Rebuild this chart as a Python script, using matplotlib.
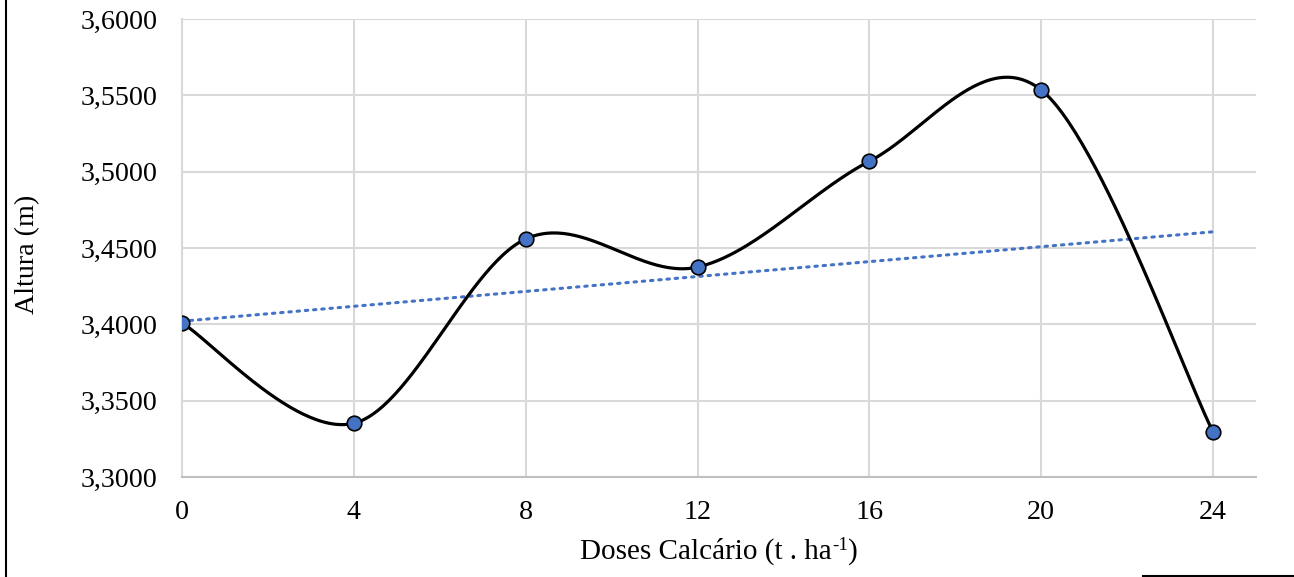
import numpy as np
import matplotlib
matplotlib.use("Agg")
import matplotlib.pyplot as plt
from matplotlib.lines import Line2D
from matplotlib.ticker import FuncFormatter

doses = [0, 4, 8, 12, 16, 20, 24]
altura = [3.4009, 3.3352, 3.4559, 3.4375, 3.5068, 3.5535, 3.3295]
x_ticks = [0, 4, 8, 12, 16, 20, 24]
y_ticks = [3.30, 3.35, 3.40, 3.45, 3.50, 3.55, 3.60]

plt.rcParams['font.family'] = ['Liberation Serif', 'DejaVu Serif']

W, H = 1294, 577
FS = 20.2
FSX = 21.0
fig = plt.figure(figsize=(W / 100, H / 100), dpi=100)
ax = fig.add_axes([182 / W, 1 - 477 / H, (1256 - 182) / W, (477 - 19) / H])

# Excel-style smoothed line (Bezier with Catmull-Rom control points)
P = np.column_stack([doses, altura]).astype(float)
n = len(P)
curve = []
for i in range(n - 1):
    p0 = P[i - 1] if i > 0 else P[i]
    p1 = P[i]
    p2 = P[i + 1]
    p3 = P[i + 2] if i + 2 < n else P[i + 1]
    c1 = p1 + (p2 - p0) / 6.0
    c2 = p2 - (p3 - p1) / 6.0
    t = np.linspace(0, 1, 60)[:, None]
    seg = ((1 - t) ** 3) * p1 + 3 * ((1 - t) ** 2) * t * c1 + 3 * (1 - t) * t ** 2 * c2 + t ** 3 * p2
    curve.append(seg if i == 0 else seg[1:])
curve = np.vstack(curve)

ax.plot(curve[:, 0], curve[:, 1], color='black', lw=2.3, zorder=3, solid_capstyle='round')

# linear trendline
m, b = np.polyfit(doses, altura, 1)
xt = np.array([doses[0], doses[-1]])
ax.plot(xt, m * xt + b, color='#4472C4', lw=2.2, linestyle=(0, (0.8, 1.9)),
        dash_capstyle='round', zorder=2)

ax.plot(doses, altura, linestyle='none', marker='o', markersize=10.5,
        markerfacecolor='#4472C4', markeredgecolor='black', markeredgewidth=1.2, zorder=4)

ax.set_xlim(0, 25)
ax.set_ylim(3.30, 3.60)
ax.set_xticks(x_ticks)
ax.set_yticks(y_ticks)
ax.yaxis.set_major_formatter(FuncFormatter(lambda v, p: f"{v:.4f}".replace('.', ',')))
ax.grid(True, color='#d9d9d9', lw=1.5, zorder=0)
ax.set_axisbelow(True)
for s in ['top', 'right']:
    ax.spines[s].set_visible(False)
ax.spines['left'].set_color('#d9d9d9')
ax.spines['left'].set_linewidth(1.5)
ax.spines['bottom'].set_color('#bfbfbf')
ax.spines['bottom'].set_linewidth(1.5)
ax.tick_params(axis='both', length=0, labelsize=FS, colors='black')
ax.tick_params(axis='y', pad=17.5)
ax.tick_params(axis='x', pad=16.5)

# y label
fig.text(28 / W, 1 - 254 / H, 'Altura (m)', rotation=90, fontsize=FS,
         ha='center', va='center')

# x label composed: main text + raised "-1" + ")"
fig.canvas.draw()
r = fig.canvas.get_renderer()
base_y = 1 - 559 / H
parts = [('Doses Calcário (t . ha', FSX, 0), ('-1', FSX * 0.65, 9.5), (')', FSX, 0)]
widths = []
for s, fs, dy in parts:
    tt = fig.text(0, 0, s, fontsize=fs)
    widths.append(tt.get_window_extent(r).width)
    tt.remove()
total = sum(widths)
x0 = 719 - total / 2
for (s, fs, dy), w in zip(parts, widths):
    fig.text(x0 / W, base_y + dy / H, s, fontsize=fs, ha='left', va='baseline')
    x0 += w

# frame lines
fig.add_artist(Line2D([6 / W, 6 / W], [0, 1], transform=fig.transFigure, color='black', lw=1.5))
fig.add_artist(Line2D([1143 / W, 1], [1.5 / H, 1.5 / H], transform=fig.transFigure, color='black', lw=1.5))

fig.savefig('out.png', dpi=100)
